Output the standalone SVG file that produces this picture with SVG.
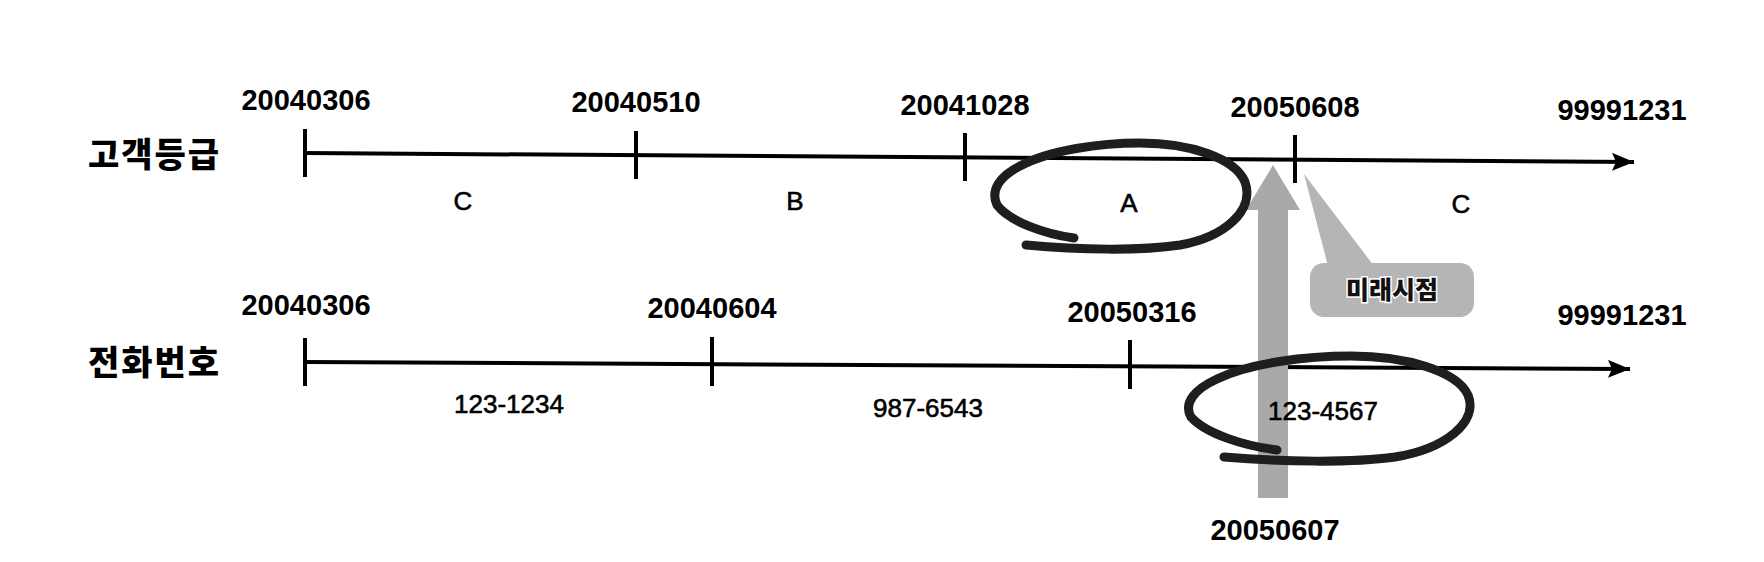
<svg xmlns="http://www.w3.org/2000/svg" width="1764" height="562" viewBox="0 0 1764 562">
  <style>
    .row { font-family: "Noto Sans CJK KR", sans-serif; font-weight: 900; font-size: 34px; letter-spacing: 2px; fill: #000; }
    .date { font-family: "Liberation Sans", Arial, sans-serif; font-weight: bold; font-size: 29px; fill: #000; text-anchor: middle; }
    .val { font-family: "Liberation Sans", Arial, sans-serif; font-size: 26px; fill: #000; stroke: #000; stroke-width: 0.6px; text-anchor: middle; }
    .axis { stroke: #000; stroke-width: 4; fill: none; }
    .tick { stroke: #000; stroke-width: 4; }
    .loop { stroke: #1e1e1e; stroke-width: 9; fill: none; stroke-linecap: round; stroke-linejoin: round; }
    .callout-text { font-family: "Noto Sans CJK KR", sans-serif; font-weight: 900; font-size: 25px; fill: #111; stroke: #fff; stroke-width: 3px; paint-order: stroke; text-anchor: middle; }
  </style>
  <defs>
    <marker id="arrow" markerUnits="userSpaceOnUse" markerWidth="24" markerHeight="20" refX="22" refY="9" orient="auto">
      <path d="M0,0 L22,9 L0,18 L4,9 z" fill="#000"/>
    </marker>
  </defs>
  <rect width="1764" height="562" fill="#fff"/>

  <g id="connectors">
    <line class="axis" x1="305" y1="153" x2="1634" y2="162" marker-end="url(#arrow)"/>
    <line class="axis" x1="305" y1="362" x2="1630" y2="369" marker-end="url(#arrow)"/>
    <polygon id="now-arrow" points="1273,165 1300,210 1288,210 1288,498 1258,498 1258,210 1246,210" fill="#a9a9a9"/>
  </g>

  <g id="row-grade">
    <text class="row" x="88" y="167">고객등급</text>
    <line class="tick" x1="305" y1="129" x2="305" y2="177"/>
    <line class="tick" x1="636" y1="131" x2="636" y2="179"/>
    <line class="tick" x1="965" y1="133" x2="965" y2="181"/>
    <line class="tick" x1="1295" y1="135" x2="1295" y2="183"/>
    <text class="date" x="306" y="110">20040306</text>
    <text class="date" x="636" y="112">20040510</text>
    <text class="date" x="965" y="115">20041028</text>
    <text class="date" x="1295" y="117">20050608</text>
    <text class="date" x="1622" y="120">99991231</text>
    <text class="val" x="463" y="210">C</text>
    <text class="val" x="795" y="210">B</text>
    <text class="val" x="1129" y="212">A</text>
    <text class="val" x="1461" y="213">C</text>
  </g>

  <g id="row-phone">
    <text class="row" x="88" y="375">전화번호</text>
    <line class="tick" x1="305" y1="338" x2="305" y2="386"/>
    <line class="tick" x1="712" y1="337" x2="712" y2="386"/>
    <line class="tick" x1="1130" y1="340" x2="1130" y2="389"/>
    <text class="date" x="306" y="315">20040306</text>
    <text class="date" x="712" y="318">20040604</text>
    <text class="date" x="1132" y="322">20050316</text>
    <text class="date" x="1622" y="325">99991231</text>
    <text class="val" x="509" y="413">123-1234</text>
    <text class="val" x="928" y="417">987-6543</text>
    <text class="val" x="1323" y="420">123-4567</text>
  </g>

  <g id="loop-grade">
    <path class="loop" d="M1074,238 C1045,234 1010,222 997,205 C990,190 1000,176 1020,166 C1050,150 1100,143 1140,143 C1190,143 1235,158 1245,182 C1255,210 1225,237 1180,245 C1140,251 1080,250 1026,245"/>
  </g>

  <g id="loop-phone">
    <path class="loop" d="M1277,450 C1245,446 1206,434 1191,417 C1183,403 1195,389 1217,379 C1250,363 1306,356 1351,356 C1406,356 1457,371 1468,395 C1479,422 1445,449 1395,457 C1351,463 1284,462 1224,457"/>
  </g>

  <g id="callout">
    <polygon points="1304,174 1328,266 1374,266" fill="#b5b5b5"/>
    <rect x="1310" y="263" width="164" height="54" rx="14" fill="#b5b5b5"/>
    <text class="callout-text" x="1392" y="299">미래시점</text>
  </g>

  <g id="now-label">
    <text class="date" x="1275" y="540">20050607</text>
  </g>
</svg>
